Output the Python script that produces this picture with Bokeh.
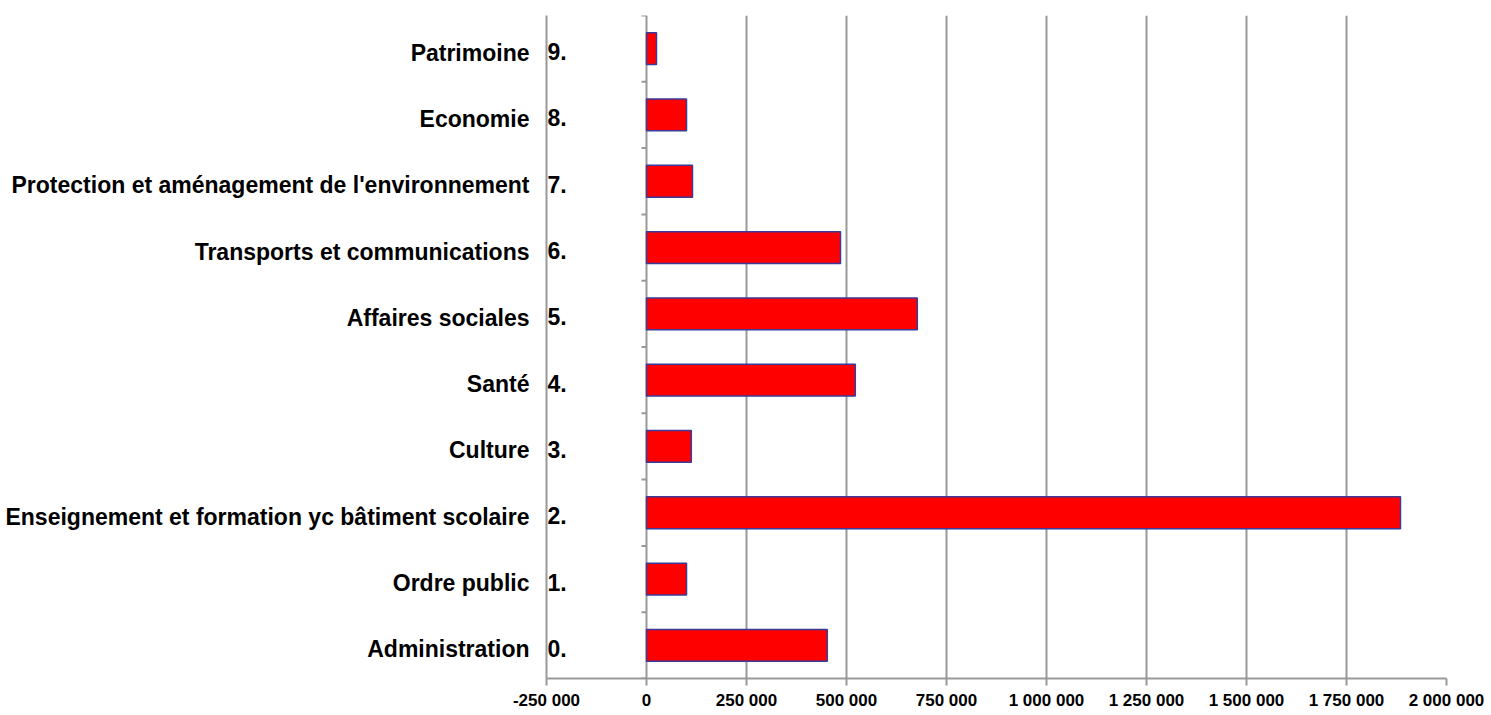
from bokeh.plotting import figure
from bokeh.models import Range1d, FixedTicker, ColumnDataSource
from bokeh.core.properties import value
from bokeh.embed import file_html
from bokeh.resources import INLINE

# ---- data (bottom to top) ----
categories = [
    "Administration",
    "Ordre public",
    "Enseignement et formation yc bâtiment scolaire",
    "Culture",
    "Santé",
    "Affaires sociales",
    "Transports et communications",
    "Protection et aménagement de l'environnement",
    "Economie",
    "Patrimoine",
]
codes = ["0.", "1.", "2.", "3.", "4.", "5.", "6.", "7.", "8.", "9."]
amounts = [452000, 100000, 1885000, 112000, 522000, 677000, 485000, 115000, 100000, 25000]
x_ticks = [-250000, 0, 250000, 500000, 750000, 1000000, 1250000, 1500000, 1750000, 2000000]

FONT = "Liberation Sans"
GRAY = "#999999"
LABEL_SHIFT = 0.06

idx = list(range(len(categories)))

p = figure(width=1488, height=712, output_backend="svg", toolbar_location=None,
           x_range=Range1d(x_ticks[0], x_ticks[-1]),
           y_range=Range1d(-0.5, len(categories) - 0.5))
p.min_border_left = 546
p.min_border_right = 42
p.min_border_top = 15
p.min_border_bottom = 28
p.outline_line_color = None
p.background_fill_color = "white"
p.border_fill_color = "white"

# grid
p.xgrid.ticker = FixedTicker(ticks=x_ticks)
p.xgrid.grid_line_color = GRAY
p.xgrid.grid_line_width = 2
p.ygrid.grid_line_color = None

# bars
src = ColumnDataSource(dict(y=idx, right=amounts, code=codes,
                            xl=[x_ticks[0]] * len(codes)))
p.hbar(y="y", left=0, right="right", height=0.48, source=src,
       fill_color="#ff0000", line_color="#3a3a9a", line_width=1.5)

# tick marks on zero line at category boundaries
bounds = [i - 0.5 for i in range(len(categories) + 1)]
tick_len = (x_ticks[1] - x_ticks[0]) * 0.05
p.segment(x0=[-tick_len] * len(bounds), x1=[0] * len(bounds), y0=bounds, y1=bounds,
          line_color=GRAY, line_width=2)

# code numbers next to the left frame
p.text(x="xl", y="y", text="code", source=src,
       x_offset=1, y_offset=3, text_align="left", text_baseline="middle",
       text_font=value(FONT), text_font_style="bold", text_font_size="23px",
       text_color="black")

# y axis (category names)
yax = p.yaxis[0]
shifted = [i - LABEL_SHIFT for i in idx]
yax.ticker = FixedTicker(ticks=shifted)
yax.major_label_overrides = {t: c for t, c in zip(shifted, categories)}
yax.axis_line_color = GRAY
yax.axis_line_width = 2
yax.major_tick_line_color = None
yax.minor_tick_line_color = None
yax.major_label_standoff = 11
yax.major_label_text_font = FONT
yax.major_label_text_font_style = "bold"
yax.major_label_text_font_size = "23px"
yax.major_label_text_color = "black"

# x axis
xax = p.xaxis[0]
xax.ticker = FixedTicker(ticks=x_ticks)
xax.major_label_overrides = {t: f"{t:,}".replace(",", " ") for t in x_ticks}
xax.axis_line_color = GRAY
xax.axis_line_width = 2
xax.major_tick_line_color = GRAY
xax.major_tick_line_width = 2
xax.major_tick_out = 7
xax.major_tick_in = 0
xax.minor_tick_line_color = None
xax.major_label_standoff = 5
xax.major_label_text_font = FONT
xax.major_label_text_font_style = "bold"
xax.major_label_text_font_size = "17px"
xax.major_label_text_color = "black"

open("out.html", "w").write(file_html(p, INLINE))
